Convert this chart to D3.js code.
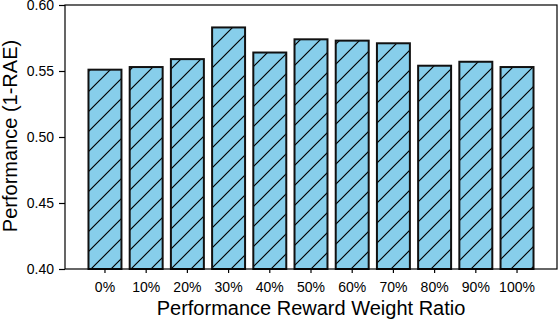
<!DOCTYPE html>
<html>
<head>
<meta charset="utf-8">
<script src="https://cdn.jsdelivr.net/npm/d3@7"></script>
<style>
  body { margin: 0; background: #fff; }
  svg { display: block; font-family: "Liberation Sans", Arial, sans-serif; }
</style>
</head>
<body>
<svg id="chart" width="558" height="320"></svg>
<script>
// Chart data
const ratios = ["0%", "10%", "20%", "30%", "40%", "50%", "60%", "70%", "80%", "90%", "100%"];
const performance = [0.551, 0.553, 0.559, 0.583, 0.564, 0.574, 0.573, 0.571, 0.554, 0.557, 0.553];
const yTicks = [0.40, 0.45, 0.50, 0.55, 0.60];

const width = 558;
const height = 320;
const margin = {top: 5, right: 1, bottom: 51, left: 65};

const svg = d3.select("#chart");

// hatch pattern "/" on top of sky blue fill
const defs = svg.append("defs");
const pat = defs.append("pattern")
    .attr("id", "hatch")
    .attr("patternUnits", "userSpaceOnUse")
    .attr("width", 20)
    .attr("height", 20);
pat.append("rect").attr("width", 20).attr("height", 20).attr("fill", "#87ceeb");
pat.append("path")
    .attr("d", "M-5,5 L5,-5 M0,20 L20,0 M15,25 L25,15")
    .attr("stroke", "#000")
    .attr("stroke-width", 1.2);

const x = d3.scaleBand()
    .domain(ratios)
    .range([margin.left, width - margin.right])
    .paddingInner(0.2)
    .paddingOuter(0.57);

const y = d3.scaleLinear()
    .domain([0.40, 0.60])
    .range([height - margin.bottom, margin.top]);

// bars
svg.append("g").selectAll("rect")
    .data(performance)
    .enter()
    .append("rect")
    .attr("x", (d, i) => x(ratios[i]))
    .attr("y", d => y(d))
    .attr("width", x.bandwidth())
    .attr("height", d => y(0.40) - y(d))
    .attr("fill", "url(#hatch)")
    .attr("stroke", "#111")
    .attr("stroke-width", 2);

// frame
svg.append("rect")
    .attr("x", margin.left)
    .attr("y", margin.top)
    .attr("width", width - margin.right - margin.left)
    .attr("height", height - margin.bottom - margin.top)
    .attr("fill", "none")
    .attr("stroke", "#000")
    .attr("stroke-width", 1.2);

// axes
const yAxis = svg.append("g")
    .attr("transform", `translate(${margin.left},0)`)
    .call(d3.axisLeft(y).tickValues(yTicks).tickFormat(d3.format(".2f")).tickSize(6).tickPadding(5));

const xAxis = svg.append("g")
    .attr("transform", `translate(0,${height - margin.bottom})`)
    .call(d3.axisBottom(x).tickSize(4).tickPadding(9));

[xAxis, yAxis].forEach(g => {
    g.select(".domain").remove();
    g.selectAll("line").attr("stroke", "#000").attr("stroke-width", 1.2);
    g.selectAll("text")
        .attr("fill", "#000")
        .style("font-size", "14px")
        .style("font-family", "\"Liberation Sans\", Arial, sans-serif");
});

// axis titles
svg.append("text")
    .attr("x", (margin.left + width - margin.right) / 2)
    .attr("y", 315)
    .attr("text-anchor", "middle")
    .style("font-size", "20px")
    .text("Performance Reward Weight Ratio");

svg.append("text")
    .attr("transform", "rotate(-90)")
    .attr("x", -136)
    .attr("y", 17)
    .attr("text-anchor", "middle")
    .style("font-size", "20px")
    .text("Performance (1-RAE)");
</script>
</body>
</html>
